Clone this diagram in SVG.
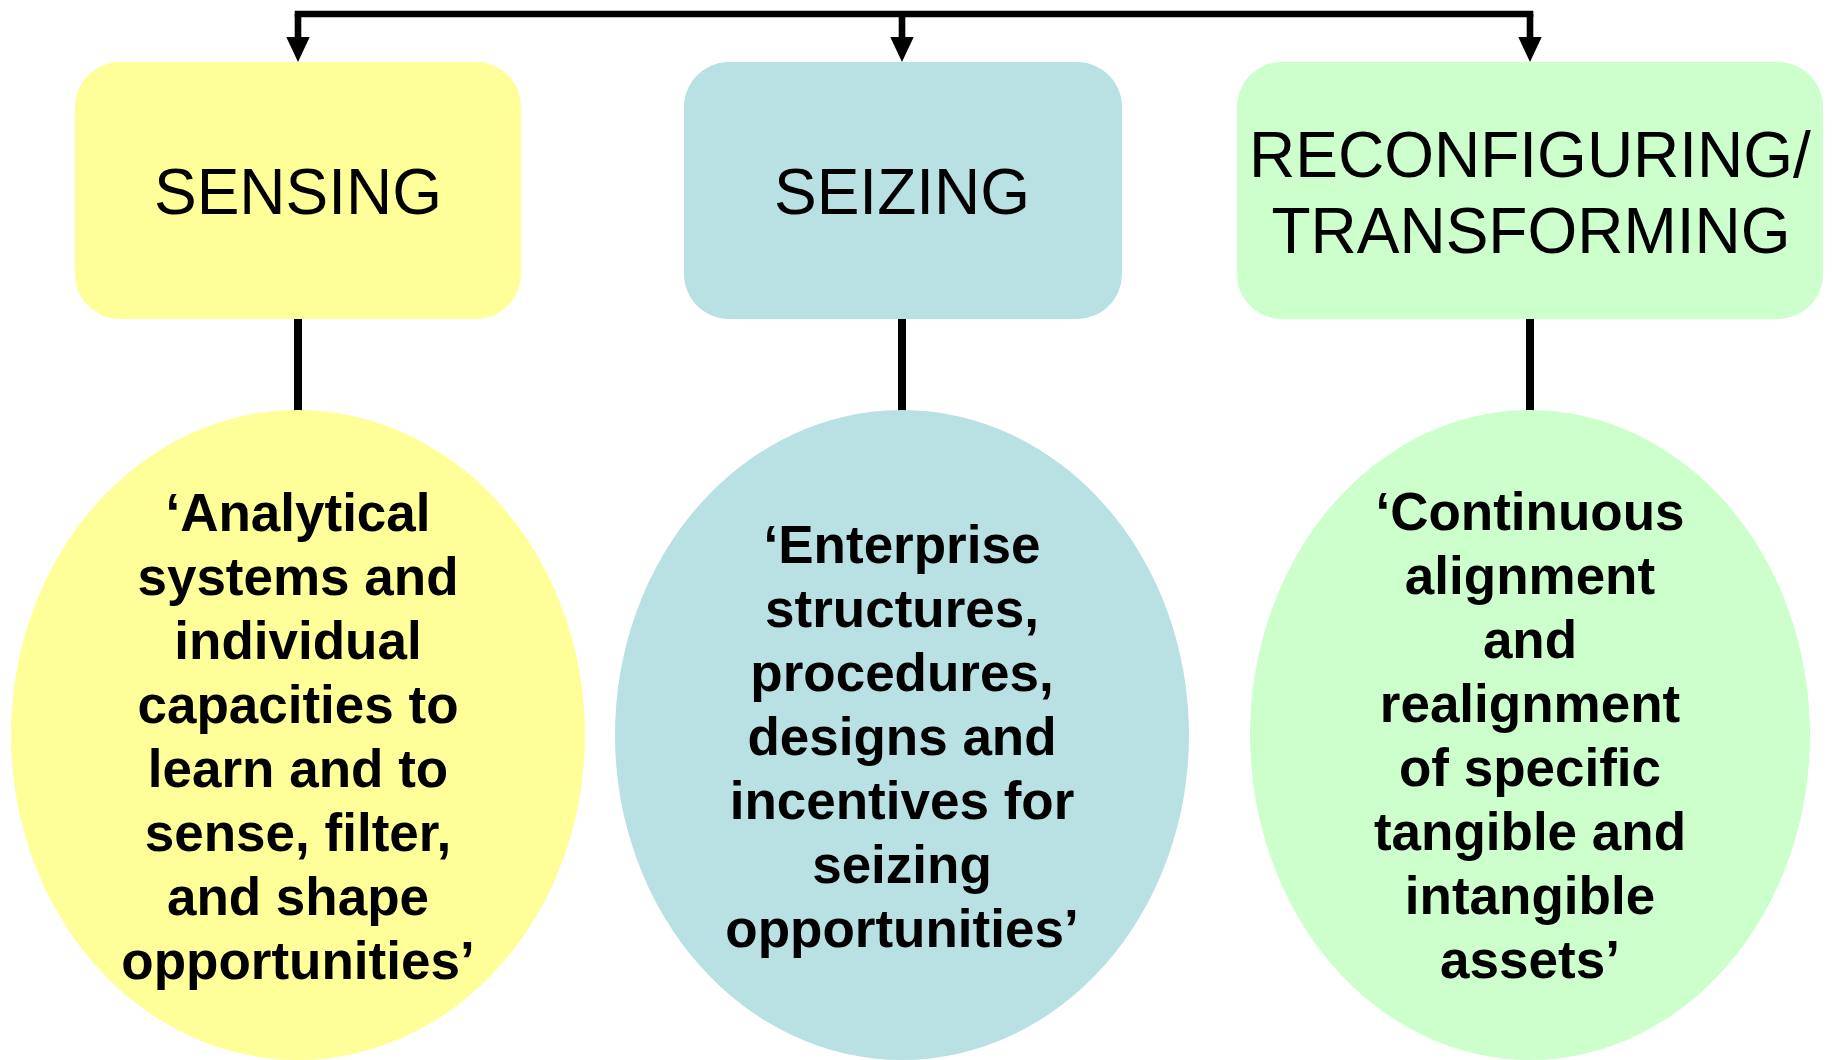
<svg xmlns="http://www.w3.org/2000/svg" width="1834" height="1060" viewBox="0 0 1834 1060">
  <defs>
    <marker id="arrow" markerUnits="userSpaceOnUse" markerWidth="26" markerHeight="24" refX="0" refY="11.7" orient="auto">
      <path d="M0,0 L25,11.7 L0,23.4 Z" fill="#000"/>
    </marker>
    <style>
      .link { stroke: #000; stroke-width: 6.6; fill: none; }
      .stem { stroke: #000; stroke-width: 8; fill: none; }
      .head { font-family: "Liberation Sans", Arial, sans-serif; font-size: 64px; fill: #000; text-anchor: middle; }
      .body { font-family: "Liberation Sans", Arial, sans-serif; font-size: 53px; font-weight: bold; fill: #000; text-anchor: middle; }
      .yellow { fill: #FFFF99; }
      .teal { fill: #B9E0E3; }
      .green { fill: #CCFFCC; }
    </style>
  </defs>
  <rect width="1834" height="1060" fill="#fff"/>

  <!-- connectors -->
  <g id="connectors">
    <path class="link" d="M298,14 H1530" stroke-linecap="square"/>
    <path class="link" d="M298,14 V37" marker-end="url(#arrow)"/>
    <path class="link" d="M902,14 V37" marker-end="url(#arrow)"/>
    <path class="link" d="M1530,14 V37" marker-end="url(#arrow)"/>
    <path class="stem" d="M298,319 V411"/>
    <path class="stem" d="M902,319 V411"/>
    <path class="stem" d="M1530,319 V411"/>
  </g>

  <!-- capability boxes -->
  <g id="sensing">
    <rect class="yellow" x="75" y="62" width="446" height="257" rx="45" ry="45"/>
    <text class="head" x="298" y="214">SENSING</text>
  </g>
  <g id="seizing">
    <rect class="teal" x="684" y="62" width="438" height="257" rx="45" ry="45"/>
    <text class="head" x="902" y="214">SEIZING</text>
  </g>
  <g id="reconfiguring">
    <rect class="green" x="1237" y="62" width="586" height="257" rx="45" ry="45"/>
    <text class="head" x="1530" y="177">RECONFIGURING/</text>
    <text class="head" x="1531" y="253">TRANSFORMING</text>
  </g>

  <!-- definition ellipses -->
  <g id="sensing-definition">
    <ellipse class="yellow" cx="298" cy="735" rx="287" ry="325"/>
    <text class="body" x="298" y="531">‘Analytical</text>
    <text class="body" x="298" y="595">systems and</text>
    <text class="body" x="298" y="659">individual</text>
    <text class="body" x="298" y="723">capacities to</text>
    <text class="body" x="298" y="787">learn and to</text>
    <text class="body" x="298" y="851">sense, filter,</text>
    <text class="body" x="298" y="915">and shape</text>
    <text class="body" x="298" y="979">opportunities’</text>
  </g>
  <g id="seizing-definition">
    <ellipse class="teal" cx="902" cy="735" rx="287" ry="325"/>
    <text class="body" x="902" y="563">‘Enterprise</text>
    <text class="body" x="902" y="627">structures,</text>
    <text class="body" x="902" y="691">procedures,</text>
    <text class="body" x="902" y="755">designs and</text>
    <text class="body" x="902" y="819">incentives for</text>
    <text class="body" x="902" y="883">seizing</text>
    <text class="body" x="902" y="947">opportunities’</text>
  </g>
  <g id="reconfiguring-definition">
    <ellipse class="green" cx="1530" cy="735" rx="280" ry="325"/>
    <text class="body" x="1530" y="530">‘Continuous</text>
    <text class="body" x="1530" y="594">alignment</text>
    <text class="body" x="1530" y="658">and</text>
    <text class="body" x="1530" y="722">realignment</text>
    <text class="body" x="1530" y="786">of specific</text>
    <text class="body" x="1530" y="850">tangible and</text>
    <text class="body" x="1530" y="914">intangible</text>
    <text class="body" x="1530" y="978">assets’</text>
  </g>
</svg>
